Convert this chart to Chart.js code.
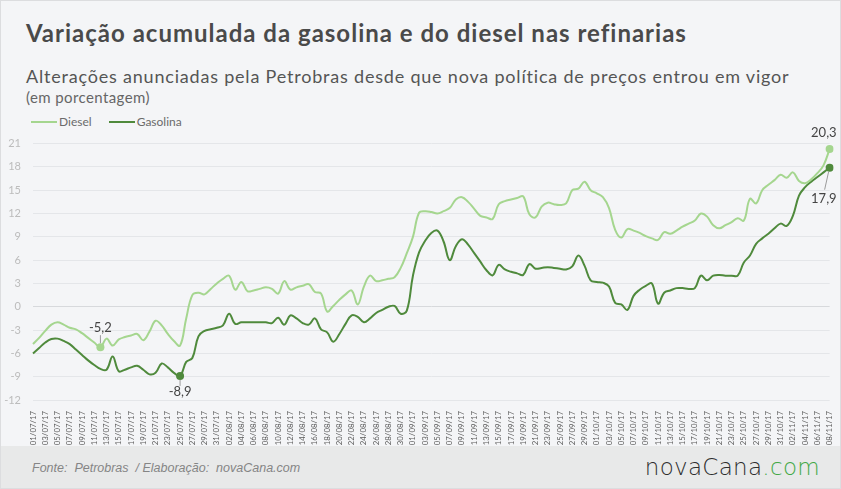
<!DOCTYPE html>
<html>
<head>
<meta charset="utf-8">
<script src="https://cdn.jsdelivr.net/npm/chart.js@4.4.0/dist/chart.umd.min.js"></script>
<style>
  body { margin: 0; background: #ffffff; }
  #wrap { position: relative; width: 841px; height: 489px; background: #f4f5f7; overflow: hidden; font-family: Lato, sans-serif; box-sizing: border-box; border: 1px solid #dcdddf; }
  .txt { position: absolute; white-space: nowrap; }
  #title { left: 25px; top: 20px; font-size: 24px; line-height: 24px; letter-spacing: 1px; font-weight: 700; color: #4a4a4a; }
  #subtitle { left: 25px; top: 66px; font-size: 18px; line-height: 18px; letter-spacing: 0.8px; color: #555; }
  #unit { left: 25px; top: 89px; font-size: 15px; line-height: 15px; letter-spacing: 0.4px; color: #666; }
  #legend { left: 30px; top: 115px; font-size: 12px; line-height: 12px; color: #6b6b6b; }
  #legend span.item { display: inline-block; margin-right: 14px; }
  #legend i { display: inline-block; width: 26px; height: 2px; vertical-align: 3px; margin-right: 2px; }
  #chartBox { position: absolute; left: 0; top: 124px; width: 841px; height: 321px; }
  #footer { position: absolute; left: 0; top: 445px; width: 841px; height: 44px; background: #e8e9e9; }
  #source { left: 31px; top: 15px; font-family: "Liberation Sans Narrow", "Liberation Sans", sans-serif; font-style: italic; font-size: 12.5px; color: #858585; }
  #logo { right: 22px; top: 8px; font-family: "DejaVu Sans", sans-serif; font-weight: 200; font-size: 23px; letter-spacing: 0.3px; color: #2e2e2e; }
  #logo b { font-weight: 200; color: #43a847; }
</style>
</head>
<body>
<div id="wrap">
  <div class="txt" id="title">Variação acumulada da gasolina e do diesel nas refinarias</div>
  <div class="txt" id="subtitle">Alterações anunciadas pela Petrobras desde que nova política de preços entrou em vigor</div>
  <div class="txt" id="unit">(em porcentagem)</div>
  <div class="txt" id="legend">
    <span class="item"><i style="background:#a5d68f"></i>Diesel</span>
    <span class="item"><i style="background:#4f8a3c"></i>Gasolina</span>
  </div>
  <div id="chartBox"><canvas id="chart"></canvas></div>
  <div id="footer">
    <div class="txt" id="source">Fonte:&nbsp; Petrobras &nbsp;/ Elaboração:&nbsp; novaCana.com</div>
    <div class="txt" id="logo">novaCana<b>.com</b></div>
  </div>
</div>

<script>
// Dates (daily, 01/07/17 to 08/11/17)
const dates = [
  '01/07/17','02/07/17','03/07/17','04/07/17','05/07/17','06/07/17','07/07/17','08/07/17','09/07/17','10/07/17',
  '11/07/17','12/07/17','13/07/17','14/07/17','15/07/17','16/07/17','17/07/17','18/07/17','19/07/17','20/07/17',
  '21/07/17','22/07/17','23/07/17','24/07/17','25/07/17','26/07/17','27/07/17','28/07/17','29/07/17','30/07/17','31/07/17',
  '01/08/17','02/08/17','03/08/17','04/08/17','05/08/17','06/08/17','07/08/17','08/08/17','09/08/17','10/08/17',
  '11/08/17','12/08/17','13/08/17','14/08/17','15/08/17','16/08/17','17/08/17','18/08/17','19/08/17','20/08/17',
  '21/08/17','22/08/17','23/08/17','24/08/17','25/08/17','26/08/17','27/08/17','28/08/17','29/08/17','30/08/17','31/08/17',
  '01/09/17','02/09/17','03/09/17','04/09/17','05/09/17','06/09/17','07/09/17','08/09/17','09/09/17','10/09/17',
  '11/09/17','12/09/17','13/09/17','14/09/17','15/09/17','16/09/17','17/09/17','18/09/17','19/09/17','20/09/17',
  '21/09/17','22/09/17','23/09/17','24/09/17','25/09/17','26/09/17','27/09/17','28/09/17','29/09/17','30/09/17',
  '01/10/17','02/10/17','03/10/17','04/10/17','05/10/17','06/10/17','07/10/17','08/10/17','09/10/17','10/10/17',
  '11/10/17','12/10/17','13/10/17','14/10/17','15/10/17','16/10/17','17/10/17','18/10/17','19/10/17','20/10/17',
  '21/10/17','22/10/17','23/10/17','24/10/17','25/10/17','26/10/17','27/10/17','28/10/17','29/10/17','30/10/17','31/10/17',
  '01/11/17','02/11/17','03/11/17','04/11/17','05/11/17','06/11/17','07/11/17','08/11/17'
];

// Accumulated variation (%)
const diesel = [
  -4.8, -4.0, -3.1, -2.3, -2.0, -2.3, -2.7, -2.9, -3.4, -4.0,
  -4.6, -5.2, -4.1, -5.0, -4.2, -3.9, -3.7, -3.5, -4.3, -3.2,
  -1.8, -2.4, -3.5, -4.4, -5.0, -1.5, 1.5, 1.8, 1.6, 2.3,
  3.0, 3.6, 4.0, 2.2, 3.2, 2.0, 2.1, 2.3, 2.5, 2.3,
  1.7, 3.3, 2.2, 2.5, 2.7, 2.9, 1.9, 1.7, -0.6, 0.1,
  0.9, 1.6, 2.1, 0.3, 2.6, 4.0, 3.3, 3.4, 3.6, 3.8,
  5.0, 6.9, 9.0, 12.1, 12.3, 12.2, 12.0, 12.3, 12.7, 13.8,
  14.1, 13.5, 12.6, 11.7, 11.5, 11.3, 13.2, 13.6, 13.8, 14.0,
  14.2, 11.9, 11.5, 12.9, 13.4, 13.2, 13.1, 13.3, 15.0, 15.2,
  16.1, 15.0, 14.6, 14.1, 12.7, 9.9, 8.9, 10.0, 9.8, 9.5,
  9.1, 8.8, 8.6, 9.6, 9.4, 9.8, 10.3, 10.7, 11.1, 12.0,
  11.6, 10.5, 10.1, 10.5, 10.9, 11.4, 11.1, 13.9, 13.3, 15.0,
  15.7, 16.3, 17.0, 16.6, 17.3, 16.2, 15.9, 16.4, 17.2, 18.2,
  20.3
];
const gasolina = [
  -6.0, -5.3, -4.6, -4.15, -4.1, -4.4, -4.8, -5.5, -6.2, -6.9,
  -7.5, -8.0, -8.1, -6.4, -8.3, -8.1, -7.8, -7.6, -8.1, -8.7,
  -8.5, -7.3, -7.8, -8.5, -8.9, -7.1, -6.6, -3.8, -3.1, -2.9,
  -2.7, -2.4, -0.9, -2.2, -2.0, -2.0, -2.0, -2.0, -2.0, -2.1,
  -1.4, -2.3, -1.1, -1.5, -2.1, -2.3, -1.5, -2.9, -3.3, -4.5,
  -3.5, -2.2, -1.1, -1.3, -2.0, -1.5, -0.8, -0.4, 0.0, 0.1,
  -0.9, -0.5, 4.0, 7.0, 8.5, 9.5, 9.8, 8.4, 6.0, 7.8,
  8.7, 8.0, 6.9, 5.8, 4.7, 4.05, 5.4, 4.8, 4.5, 4.3,
  4.1, 5.5, 4.9, 5.0, 5.1, 5.0, 4.9, 4.8, 5.2, 6.6,
  5.3, 3.4, 3.2, 3.1, 2.6, 0.5, 0.3, -0.4, 1.4, 2.2,
  2.7, 3.0, 0.4, 1.8, 2.1, 2.4, 2.4, 2.3, 2.4, 4.0,
  3.4, 4.0, 4.1, 4.0, 4.0, 4.0, 5.7, 6.6, 8.1, 8.8,
  9.4, 10.1, 10.7, 10.4, 11.7, 14.3, 15.4, 16.1, 16.7, 17.3,
  17.9
];

// Highlighted points (indexes into the series)
const dieselMarks = [11, 130];
const gasolinaMarks = [24, 130];

const yTicksMin = -12;
const yTicksMax = 21;
const yTicksStep = 3;

const DIESEL_COLOR = '#a5d68f';
const GASOLINA_COLOR = '#4f8a3c';

function fmt(v) {
  return v.toFixed(1).replace('.', ',');
}

// Draws the value labels with their small leader lines
const valueLabels = {
  id: 'valueLabels',
  afterDatasetsDraw(chart) {
    const ctx = chart.ctx;
    ctx.save();
    ctx.font = '13px Lato';
    ctx.fillStyle = '#444';
    ctx.strokeStyle = '#9a9a9a';
    ctx.lineWidth = 1;
    ctx.textBaseline = 'middle';

    const dMeta = chart.getDatasetMeta(0);
    const gMeta = chart.getDatasetMeta(1);

    // diesel minimum: label above
    let p = dMeta.data[dieselMarks[0]];
    ctx.textAlign = 'center';
    ctx.fillText(fmt(diesel[dieselMarks[0]]), p.x, p.y - 19);
    ctx.beginPath(); ctx.moveTo(p.x, p.y - 12); ctx.lineTo(p.x, p.y - 4); ctx.stroke();

    // gasolina minimum: label below
    p = gMeta.data[gasolinaMarks[0]];
    ctx.fillText(fmt(gasolina[gasolinaMarks[0]]), p.x, p.y + 16);
    ctx.beginPath(); ctx.moveTo(p.x, p.y + 4); ctx.lineTo(p.x, p.y + 10); ctx.stroke();

    // diesel last: label above
    p = dMeta.data[dieselMarks[1]];
    ctx.textAlign = 'right';
    ctx.fillText(fmt(diesel[dieselMarks[1]]), p.x + 7, p.y - 16);

    // gasolina last: label below with slanted line
    p = gMeta.data[gasolinaMarks[1]];
    ctx.fillText(fmt(gasolina[gasolinaMarks[1]]), p.x + 7, p.y + 31);
    ctx.beginPath(); ctx.moveTo(p.x - 1, p.y + 4); ctx.lineTo(p.x - 5, p.y + 22); ctx.stroke();

    ctx.restore();
  }
};

function markRadius(marks) {
  return (c) => marks.includes(c.dataIndex) ? 4 : 0;
}

new Chart(document.getElementById('chart'), {
  type: 'line',
  data: {
    labels: dates,
    datasets: [
      {
        label: 'Diesel',
        data: diesel,
        borderColor: DIESEL_COLOR,
        backgroundColor: DIESEL_COLOR,
        borderWidth: 2,
        tension: 0.4,
        pointRadius: markRadius(dieselMarks),
        pointBorderWidth: 0
      },
      {
        label: 'Gasolina',
        data: gasolina,
        borderColor: GASOLINA_COLOR,
        backgroundColor: GASOLINA_COLOR,
        borderWidth: 2,
        tension: 0.4,
        pointRadius: markRadius(gasolinaMarks),
        pointBorderWidth: 0
      }
    ]
  },
  options: {
    responsive: true,
    maintainAspectRatio: false,
    animation: false,
    layout: { padding: { top: 9, right: 10, left: 0, bottom: 0 } },
    plugins: {
      legend: { display: false },
      tooltip: { enabled: false }
    },
    scales: {
      x: {
        grid: { display: false },
        border: { display: false },
        ticks: {
          autoSkip: false,
          minRotation: 90,
          maxRotation: 90,
          padding: 3,
          color: '#5a5a5a',
          font: { family: 'Lato', size: 7.8 },
          callback: function (val, idx) {
            return idx % 2 === 0 ? this.getLabelForValue(val) : '';
          }
        },
        afterFit: (scale) => { scale.height = 46; }
      },
      y: {
        min: yTicksMin,
        max: yTicksMax,
        border: { display: false },
        grid: {
          drawTicks: false,
          color: (c) => c.tick && c.tick.value === 0 ? '#d7d9dc' : '#e4e6e9',
          lineWidth: 1
        },
        ticks: {
          stepSize: yTicksStep,
          padding: 12,
          color: '#bcbcbc',
          font: { family: 'Lato', size: 11 }
        },
        afterFit: (scale) => { scale.width = 32; }
      }
    }
  },
  plugins: [valueLabels]
});
</script>
</body>
</html>
